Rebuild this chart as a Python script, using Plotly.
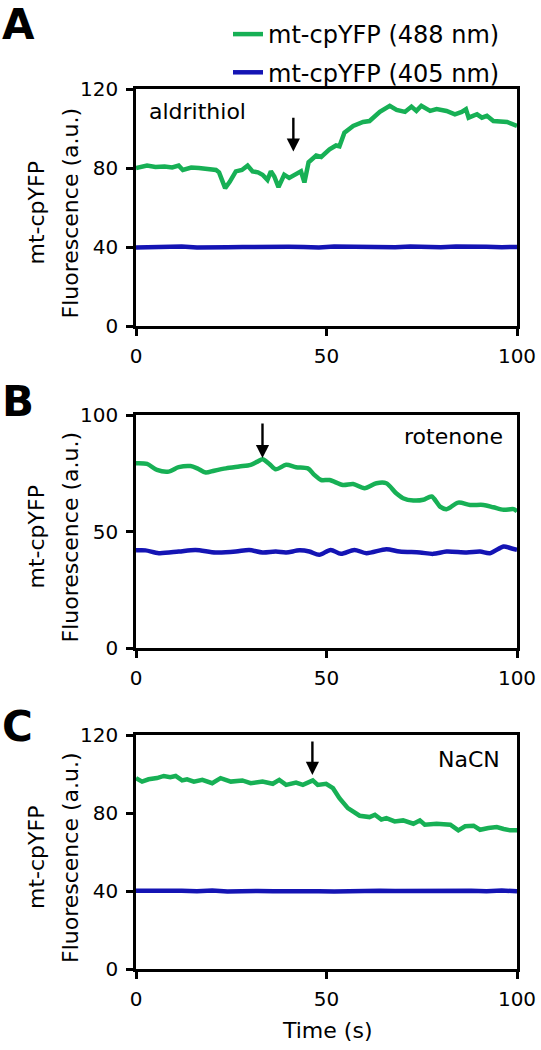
import plotly.graph_objects as go

# ---------------- data ----------------
# Panel A (aldrithiol)
a_green_t = [0, 2.9, 5.1, 7.5, 9.5, 11.2, 12.3, 14.5, 16.5, 18.8, 21.0, 21.8, 23.4, 24.6, 26.2, 27.8, 29.3,
             30.6, 32.0, 33.2, 34.5, 35.4, 36.3, 37.4, 38.9, 40.2, 42.0, 43.3, 44.2, 45.3, 47.3, 48.6,
             50.8, 52.5, 53.4, 54.7, 57.0, 59.6, 61.3, 64.0, 66.6, 68.4, 70.6, 72.3, 73.6, 74.9, 77.2,
             78.9, 81.5, 83.7, 85.5, 86.6, 87.3, 89.5, 90.8, 92.1, 93.8, 95.6, 97.4, 100]
a_green_v = [80, 81.2, 80.5, 80.8, 80.3, 81.2, 79.0, 80.2, 80.0, 79.6, 79.0, 77.8, 69.8, 73.0, 78.3, 79.0, 81.2,
             78.3, 77.8, 76.6, 74.0, 78.3, 75.7, 70.3, 76.6, 75.0, 76.6, 78.3, 72.7, 82.9, 86.3, 85.6,
             89.4, 91.4, 91.0, 97.9, 101.3, 103.3, 103.8, 108.4, 111.5, 109.4, 108.4, 111.1, 108.9, 111.5, 108.9,
             109.8, 108.9, 107.2, 108.4, 109.8, 105.5, 107.2, 105.5, 106.4, 103.8, 103.8, 103.3, 101.3]
a_blue_t = [0, 4, 8, 12, 16, 20, 24, 28, 32, 36, 40, 44, 48, 52, 56, 60, 64, 68, 72, 76, 80, 84, 88, 92, 96, 100]
a_blue_v = [39.8, 40.1, 39.9, 40.2, 39.8, 40.1, 39.9, 40.0, 40.2, 39.9, 40.1, 40.0, 39.8, 40.2, 40.0, 39.9,
            40.1, 39.9, 40.2, 40.0, 39.9, 40.2, 39.9, 40.1, 39.9, 40.0]

# Panel B (rotenone)
b_green_t = [0, 2.9, 5.5, 8.6, 11.2, 14.3, 16.1, 18.3, 20.5, 23.6, 27.1, 30.1, 31.9, 33.2, 35.0, 36.7, 39.4,
             42.0, 45.1, 46.8, 48.6, 50.8, 54.3, 57.0, 60.0, 63.1, 65.7, 68.3, 70.1, 72.8, 75.4, 77.6,
             79.8, 81.5, 84.6, 87.7, 91.2, 93.8, 96.5, 99.1, 100]
b_green_v = [79.3, 79.0, 76.4, 75.7, 77.6, 78.1, 77.1, 75.3, 76.1, 77.1, 77.9, 78.6, 80.0, 81.0, 79.0, 76.7, 78.6,
             77.6, 77.1, 74.3, 72.1, 72.1, 70.0, 70.4, 68.6, 70.7, 70.7, 66.4, 64.3, 63.3, 63.6, 65.0,
             60.7, 59.6, 62.4, 61.4, 61.4, 60.4, 59.3, 59.6, 58.6]
b_blue_t = [0, 2.5, 6.0, 11.2, 15.6, 20.9, 26.2, 29.7, 33.2, 36.7, 39.4, 42.9, 45.5, 48.1, 51.1, 53.8, 57.3,
            60.5, 65.7, 69.2, 74.5, 78.0, 81.5, 86.8, 90.3, 92.9, 96.5, 98.2, 100]
b_blue_v = [41.9, 41.9, 40.7, 41.4, 42.1, 41.0, 41.4, 42.1, 41.0, 41.4, 41.0, 41.9, 41.4, 40.0, 42.1, 40.4, 42.1,
            40.7, 42.4, 41.4, 41.0, 40.4, 41.4, 41.0, 41.4, 40.7, 43.6, 42.9, 42.1]

# Panel C (NaCN)
c_green_t = [0, 1.6, 3.3, 5.5, 7.3, 9.0, 10.4, 12.1, 13.4, 15.2, 17.4, 20.0, 22.2, 24.9, 27.9, 30.1, 33.2,
             35.9, 37.6, 39.4, 42.0, 43.8, 46.4, 47.7, 49.9, 51.7, 53.4, 55.6, 58.7, 61.3, 62.7, 64.4,
             65.7, 67.9, 70.1, 72.8, 74.5, 75.8, 78.9, 82.5, 84.6, 86.4, 88.6, 90.3, 92.5, 94.7, 96.5,
             98.2, 100]
c_green_v = [97.9, 96.1, 97.3, 97.9, 99.0, 98.4, 99.0, 96.7, 97.3, 96.1, 97.0, 95.3, 97.9, 96.1, 96.7, 95.3, 96.1,
             95.0, 97.0, 94.4, 95.6, 94.4, 96.7, 94.4, 95.0, 92.7, 87.6, 82.5, 78.6, 77.9, 79.1, 76.6,
             77.4, 75.7, 76.2, 74.5, 76.2, 74.0, 74.5, 74.0, 71.1, 73.2, 73.5, 71.4, 72.3, 72.8, 71.8,
             71.1, 71.1]
c_blue_t = [0, 4, 8, 12, 16, 20, 24, 28, 32, 36, 40, 44, 48, 52, 56, 60, 64, 68, 72, 76, 80, 84, 88, 92, 96, 100]
c_blue_v = [40.1, 40.2, 39.8, 40.1, 39.9, 40.2, 39.8, 40.1, 40.0, 39.9, 40.0, 39.9, 39.9, 39.7, 40.0, 39.9,
            40.1, 40.0, 40.1, 40.0, 40.2, 39.9, 40.1, 39.9, 40.2, 39.9]

series_names = ["mt-cpYFP (488 nm)", "mt-cpYFP (405 nm)"]
treatments = ["aldrithiol", "rotenone", "NaCN"]
arrow_t = [41.3, 33.2, 46.3]
arrow_head = [88.3, 81.5, 99.5]
arrow_tail = [106.2, 97.0, 117.4]
y_ranges = [[0, 120], [0, 100], [0, 120]]
y_dticks = [40, 50, 40]
x_ticks = [0, 50, 100]
panel_letters = ["A", "B", "C"]

GREEN = "#17B055"
BLUE = "#1414B4"
FONT = "DejaVu Sans"

# ---------------- figure ----------------
W, H = 541, 1050
fig = go.Figure()

# panel pixel boxes (top, bottom)
boxes = [(89, 326), (415, 648), (735, 969)]
x_left, x_right = 136, 517
shapes_line = ["linear", "spline", "linear"]

greens = [(a_green_t, a_green_v), (b_green_t, b_green_v), (c_green_t, c_green_v)]
blues = [(a_blue_t, a_blue_v), (b_blue_t, b_blue_v), (c_blue_t, c_blue_v)]

for i in range(3):
    xa = "x" if i == 0 else f"x{i+1}"
    ya = "y" if i == 0 else f"y{i+1}"
    fig.add_trace(go.Scatter(x=blues[i][0], y=blues[i][1], mode="lines",
                             line=dict(color=BLUE, width=4.5, shape=shapes_line[i], smoothing=0.8),
                             name=series_names[1],
                             legendgroup="b", showlegend=(i == 0), legendrank=2,
                             xaxis=xa, yaxis=ya))
    fig.add_trace(go.Scatter(x=greens[i][0], y=greens[i][1], mode="lines",
                             line=dict(color=GREEN, width=4.5, shape=shapes_line[i], smoothing=0.8),
                             name=series_names[0],
                             legendgroup="g", showlegend=(i == 0), legendrank=1,
                             xaxis=xa, yaxis=ya))

layout = dict(
    template="none",
    autosize=False,
    width=W, height=H, margin=dict(l=0, r=0, t=0, b=0, pad=0, autoexpand=False),
    paper_bgcolor="white", plot_bgcolor="white",
    font=dict(family=FONT, size=20, color="black"),
    showlegend=True,
    legend=dict(x=228 / W, y=1 - 12 / H, xanchor="left", yanchor="top",
                font=dict(family=FONT, size=24), traceorder="grouped",
                tracegroupgap=4, bgcolor="rgba(0,0,0,0)", borderwidth=0, itemwidth=30),
)

annotations = []
for i in range(3):
    top, bot = boxes[i]
    sfx = "" if i == 0 else str(i + 1)
    layout[f"xaxis{sfx}"] = dict(
        domain=[x_left / W, x_right / W], range=[0, 100], anchor=f"y{sfx}",
        tickvals=x_ticks, ticks="outside", ticklen=7, tickwidth=2.5, tickcolor="black",
        showline=True, linecolor="black", linewidth=2.5, mirror=True, automargin=False,
        ticklabelstandoff=3,
        showgrid=False, zeroline=False, tickfont=dict(size=20, family=FONT),
    )
    layout[f"yaxis{sfx}"] = dict(
        domain=[1 - bot / H, 1 - top / H], range=y_ranges[i], anchor=f"x{sfx}",
        dtick=y_dticks[i], ticks="outside", ticklen=7, tickwidth=2.5, tickcolor="black",
        showline=True, linecolor="black", linewidth=2.5, mirror=True, automargin=False,
        ticklabelstandoff=4,
        showgrid=False, zeroline=False, tickfont=dict(size=20, family=FONT),
    )
    xr = "x" + sfx
    yr = "y" + sfx
    # arrow
    annotations.append(dict(x=arrow_t[i], y=arrow_head[i], ax=arrow_t[i], ay=arrow_tail[i],
                            xref=xr, yref=yr, axref=xr, ayref=yr, showarrow=True,
                            arrowhead=2, arrowsize=1.1, arrowwidth=2.4, arrowcolor="black", text=""))
    # y titles
    yc = 1 - ((top + bot) / 2 + 6) / H
    annotations.append(dict(x=36 / W, y=yc, xref="paper", yref="paper", text="mt-cpYFP",
                            textangle=-90, showarrow=False, font=dict(size=22, family=FONT),
                            xanchor="center", yanchor="middle"))
    annotations.append(dict(x=70 / W, y=yc, xref="paper", yref="paper", text="Fluorescence (a.u.)",
                            textangle=-90, showarrow=False, font=dict(size=22, family=FONT),
                            xanchor="center", yanchor="middle"))
    # panel letter
    annotations.append(dict(x=0 / W, y=1 - [24, 401, 726][i] / H, xref="paper", yref="paper",
                            text=f"<b>{panel_letters[i]}</b>", showarrow=False,
                            font=dict(size=42, family=FONT), xanchor="left", yanchor="middle"))

# treatment labels
annotations.append(dict(x=2.9, y=108.8, xref="x", yref="y", text=treatments[0], showarrow=False,
                        xanchor="left", yanchor="middle", font=dict(size=22, family=FONT)))
annotations.append(dict(x=96.8, y=90.6, xref="x2", yref="y2", text=treatments[1], showarrow=False,
                        xanchor="right", yanchor="middle", font=dict(size=22, family=FONT)))
annotations.append(dict(x=96.0, y=107.2, xref="x3", yref="y3", text=treatments[2], showarrow=False,
                        xanchor="right", yanchor="middle", font=dict(size=22, family=FONT)))
# x title
annotations.append(dict(x=((x_left + x_right) / 2) / W, y=1 - 1030 / H, xref="paper", yref="paper",
                        text="Time (s)", showarrow=False, xanchor="center", yanchor="middle",
                        font=dict(size=22, family=FONT)))

layout["annotations"] = annotations
fig.update_layout(**layout)
fig.write_html(
    "out.html",
    config={"displayModeBar": False, "responsive": False},
    post_script="document.body.style.margin='0';document.body.style.overflow='hidden';",
)
